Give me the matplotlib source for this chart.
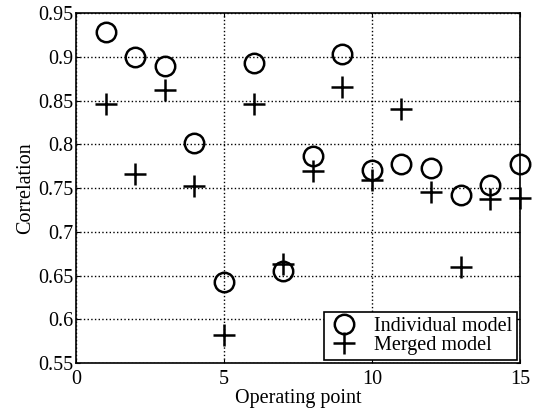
import matplotlib
matplotlib.use('Agg')
import matplotlib.pyplot as plt

plt.rcParams['font.family'] = ['Liberation Serif', 'DejaVu Serif']

operating_point = list(range(1, 16))
individual_model = [0.929, 0.900, 0.890, 0.801, 0.643, 0.893, 0.655, 0.787,
                    0.903, 0.771, 0.778, 0.773, 0.742, 0.754, 0.777]
merged_model = [0.846, 0.766, 0.862, 0.752, 0.582, 0.846, 0.663, 0.770,
                0.866, 0.759, 0.840, 0.746, 0.660, 0.737, 0.739]

fig = plt.figure(figsize=(5.37, 4.12), dpi=100)
ax = fig.add_axes([0.1415, 0.119, 0.8265, 0.849])

ax.plot(operating_point, individual_model, 'o', mfc='none', mec='black',
        ms=14, mew=1.8, label='Individual model', clip_on=False)
ax.plot(operating_point, merged_model, '+', color='black',
        ms=16, mew=1.8, label='Merged model', clip_on=False)

ax.set_xlim(0, 15)
ax.set_ylim(0.55, 0.95)
ax.set_xticks([0, 5, 10, 15])
ax.set_yticks([0.55, 0.6, 0.65, 0.7, 0.75, 0.8, 0.85, 0.9, 0.95])
ax.set_yticklabels(['0.55', '0.6', '0.65', '0.7', '0.75', '0.8', '0.85', '0.9', '0.95'])
ax.tick_params(direction='in', labelsize=14.5, length=3, top=True, right=True)
ax.tick_params(axis='x', pad=5)
ax.tick_params(axis='y', pad=2)
ax.grid(True, linestyle=':', color='black', linewidth=1)
for s in ax.spines.values():
    s.set_linewidth(1.2)

ax.set_xlabel('Operating point', fontsize=14.5, labelpad=0)
ax.set_ylabel('Correlation', fontsize=14.5, labelpad=2)

leg = ax.legend(loc='lower right', fontsize=14.5, frameon=True, fancybox=False,
                edgecolor='black', framealpha=1, borderpad=0.25,
                handletextpad=0.7, labelspacing=0.0, handlelength=1.5,
                borderaxespad=0.15)
leg.get_frame().set_linewidth(1.2)

fig.savefig('out.png', dpi=100)
